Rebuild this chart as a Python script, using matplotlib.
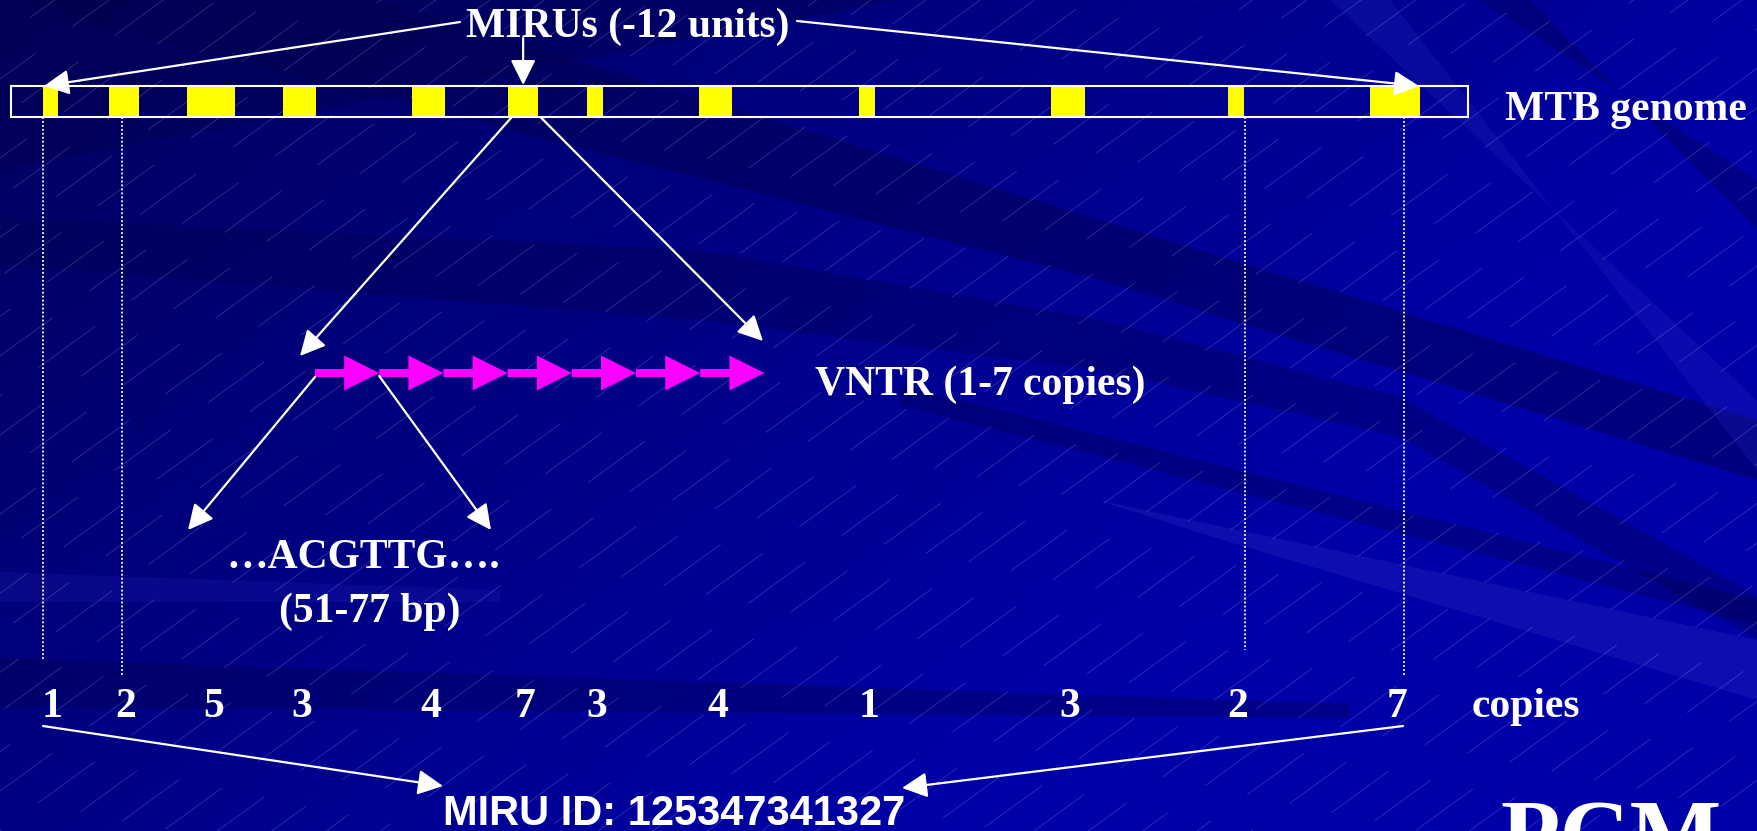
import numpy as np
import matplotlib
matplotlib.use("Agg")
import matplotlib.pyplot as plt
from matplotlib.patches import Rectangle, Polygon, FancyArrow
from matplotlib.collections import LineCollection


# MIRU loci along the genome (0-100 genome units) and VNTR copy numbers
miru_start = [2.2, 6.7, 12.1, 18.7, 27.5, 34.1, 39.5, 47.2, 58.2, 71.4, 83.5, 93.3]
miru_width = [1.0, 2.1, 3.3, 2.2, 2.3, 2.1, 1.1, 2.3, 1.1, 2.3, 1.1, 3.4]
copies = [1, 2, 5, 3, 4, 7, 3, 4, 1, 3, 2, 7]
zoom_locus = 5  # the locus expanded into its tandem repeats

W, H = 1757, 831
GENOME_X0, GENOME_X1 = 11, 1468
BAR_TOP, BAR_H = 86, 31

SERIF = dict(family="Liberation Serif", weight="bold", color="white", fontsize=30)
SANS = dict(family="Liberation Sans", weight="bold", color="white", fontsize=30)


def gx(u):
    """genome units -> pixel x"""
    return GENOME_X0 + u * (GENOME_X1 - GENOME_X0) / 100.0


def arrow(ax, p0, p1):
    ax.annotate(
        "", xy=p1, xytext=p0,
        arrowprops=dict(
            arrowstyle="-|>,head_length=1.1,head_width=0.55",
            color="white", lw=1.6, shrinkA=0, shrinkB=0, mutation_scale=14,
        ),
        zorder=6,
    )


def draw_background(ax):
    # blue gradient, darker in the upper left
    xs = np.linspace(0, 1, 440)
    ys = np.linspace(0, 1, 210)
    xx, yy = np.meshgrid(xs, ys)
    blue = np.clip(0x5c + 0x44 * xx + 0x28 * yy, 0, 0xA8) / 255.0
    img = np.dstack([np.zeros_like(blue), np.zeros_like(blue), blue])
    ax.imshow(img, extent=(0, W, H, 0), aspect="auto", zorder=0)

    dark = "#00004e"
    light = "#2a2ac0"
    bands = [
        ([(0, 0), (900, 0), (0, 170)], dark, 0.4),
        ([(380, 0), (1100, 220), (1757, 420), (1757, 480), (1100, 280), (0, 0)], dark, 0.45),
        ([(0, 217), (700, 250), (1100, 320), (1400, 397), (1757, 595),
          (1757, 640), (1400, 437), (1100, 370), (700, 320), (0, 265)], dark, 0.35),
        ([(900, 385), (1757, 600), (1757, 625), (900, 405)], dark, 0.35),
        ([(0, 658), (1350, 704), (1350, 718), (0, 707)], dark, 0.35),
        ([(1480, 0), (1530, 0), (1757, 230), (1757, 180)], dark, 0.35),
        ([(1097, 500), (1757, 640), (1757, 700), (1213, 537)], light, 0.35),
        ([(0, 572), (500, 590), (500, 602), (0, 602)], light, 0.2),
        ([(1330, 0), (1390, 0), (1757, 470), (1757, 400)], light, 0.25),
    ]
    for pts, col, a in bands:
        ax.add_patch(Polygon(pts, closed=True, facecolor=col, edgecolor="none",
                             alpha=a, zorder=1))

    # thin broken "/" hatching
    theta = np.radians(36)
    d = np.array([np.cos(theta), -np.sin(theta)])
    n = np.array([np.sin(theta), np.cos(theta)])
    segs = []
    spacing, dash, gap = 32.0, 70.0, 45.0
    for k in range(-10, 80):
        base = n * (k * spacing)
        phase = (k * 29) % (dash + gap)
        t = -2200 + phase
        while t < 2200:
            p0 = base + d * t
            p1 = base + d * (t + dash)
            segs.append([p0, p1])
            t += dash + gap
    ax.add_collection(LineCollection(segs, colors="#c8c8ff", linewidths=0.5,
                                     alpha=0.28, zorder=2))


fig = plt.figure(figsize=(W / 100, H / 100), dpi=100)
ax = fig.add_axes([0, 0, 1, 1])
ax.set_xlim(0, W)
ax.set_ylim(H, 0)
ax.axis("off")

draw_background(ax)

# genome bar with the MIRU loci
centers = []
for s, w in zip(miru_start, miru_width):
    x0, x1 = gx(s), gx(s + w)
    ax.add_patch(Rectangle((x0, BAR_TOP), x1 - x0, BAR_H, facecolor="#ffff00",
                           edgecolor="none", zorder=4))
    centers.append((x0 + x1) / 2)
ax.add_patch(Rectangle((GENOME_X0, BAR_TOP), GENOME_X1 - GENOME_X0, BAR_H,
                       facecolor="none", edgecolor="white", lw=1.5, zorder=5))
ax.text(1505, 120, "MTB genome", ha="left", va="baseline", zorder=7, **SERIF)

# title and its pointers
ax.text(628, 37, "MIRUs (-12 units)", ha="center", va="baseline", zorder=7, **SERIF)
arrow(ax, (460, 22), (44, 86))
arrow(ax, (centers[zoom_locus], 38), (centers[zoom_locus], 85))
arrow(ax, (797, 21), (1419, 86))

# zoom into one locus
zx0 = gx(miru_start[zoom_locus]) + 4
zx1 = gx(miru_start[zoom_locus] + miru_width[zoom_locus]) + 2
bar_bottom = BAR_TOP + BAR_H
arrow(ax, (zx0, bar_bottom), (300, 356))
arrow(ax, (zx1, bar_bottom), (763, 341))

# tandem repeats of that locus
rep_x0, rep_y, rep_len = 315, 373, 64.2
for i in range(copies[zoom_locus]):
    ax.add_patch(FancyArrow(rep_x0 + i * rep_len, rep_y, rep_len, 0, width=8,
                            head_width=35, head_length=35,
                            length_includes_head=True, color="#ff00ff",
                            lw=0, zorder=5))
ax.text(815, 395, "VNTR (1-7 copies)", ha="left", va="baseline", zorder=7, **SERIF)

# one repeat unit
arrow(ax, (rep_x0, 377), (188, 530))
arrow(ax, (rep_x0 + rep_len, 376), (491, 530))
ax.text(363, 568, "\u2026ACGTTG\u2026.", ha="center", va="baseline", zorder=7, **SERIF)
ax.text(370, 622, "(51-77 bp)", ha="center", va="baseline", zorder=7, **SERIF)

# dotted guides from loci to copy numbers
for gxp, y_end in [(43, 660), (122, 677), (1245, 650), (1404, 676)]:
    ax.plot([gxp, gxp], [bar_bottom, y_end], color="white", lw=1.3,
            linestyle=(0, (1, 1.2)), zorder=3)

# copy numbers and the resulting ID
for c, n_copy in zip(centers, copies):
    ax.text(c + 2, 717, str(n_copy), ha="center", va="baseline", zorder=7, **SERIF)
ax.text(1472, 717, "copies", ha="left", va="baseline", zorder=7, **SERIF)

arrow(ax, (43, 726), (443, 786))
arrow(ax, (1403, 726), (902, 788))
miru_id = "".join(str(v) for v in copies)
ax.text(443, 825, f"MIRU ID: {miru_id}", ha="left", va="baseline", zorder=7, **SANS)

# institution mark, running off the lower edge of the slide
ax.text(1500, 867, "PCM", ha="left", va="baseline", zorder=7,
        family="Liberation Serif", weight="bold", color="white", fontsize=70)

fig.savefig("out.png", dpi=100)
